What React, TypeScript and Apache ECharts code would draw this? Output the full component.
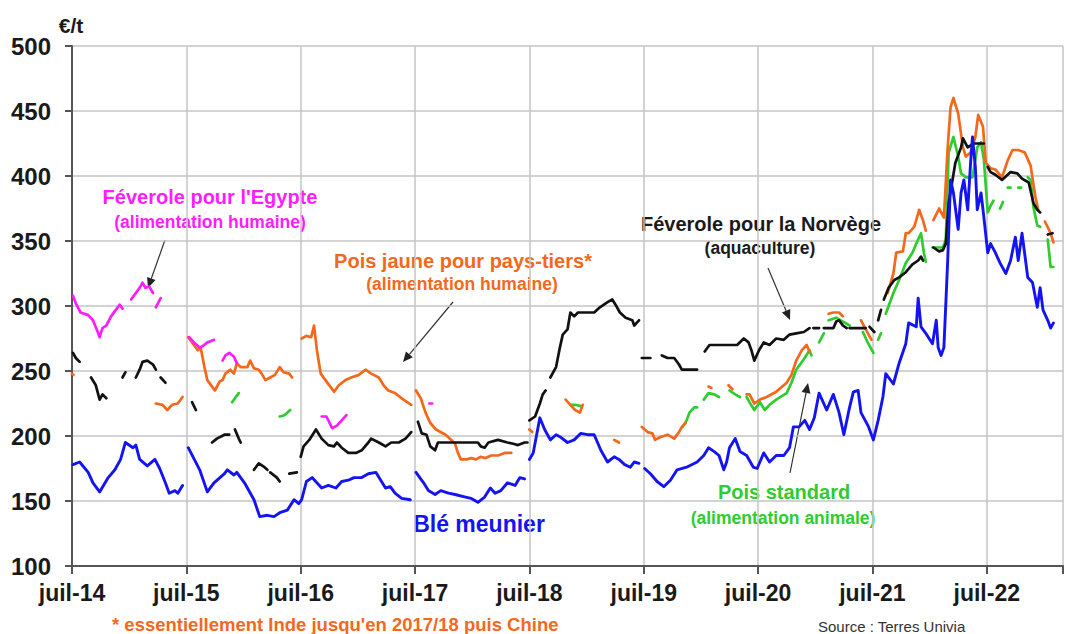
import React, { useEffect, useRef } from "react";
import * as echarts from "echarts";

type P = [number, number] | null;

// x = months since July 2014, y = €/t
const xLabels = ["juil-14", "juil-15", "juil-16", "juil-17", "juil-18", "juil-19", "juil-20", "juil-21", "juil-22"];

const bleMeunier: P[] = [
  [0.1,178],[0.8,180],[1.7,172],[2.2,164],[2.9,157],[3.8,168],[4.5,174],[5.1,182],[5.6,195],[6.4,191],[6.7,193],[7.1,182],[7.9,177],[8.7,182],[9.2,175],[9.8,164],[10.2,156],[10.8,158],[11.1,156],[11.6,162],
  null,
  [12.2,191],[13.4,174],[14.2,157],[14.9,164],[16.0,171],[16.3,174],[17.0,170],[17.3,172],[18.1,164],[19.1,151],[19.7,138],[20.5,139],[21.2,138],[21.8,141],[22.6,143],[23.3,151],[23.8,148],[24.1,151],[24.6,165],[25.2,168],[25.7,164],[26.2,160],[26.9,162],[27.7,160],[28.3,165],[29.0,166],[29.6,168],[30.4,168],[31.1,171],[31.9,172],[32.4,166],[32.9,160],[33.4,161],[33.9,156],[34.6,152],[35.5,151],
  null,
  [36.1,172],[36.9,164],[37.4,158],[38.1,155],[38.7,158],[39.5,156],[40.2,155],[41.3,153],[41.9,152],[42.6,149],[43.3,153],[43.9,160],[44.4,156],[45.0,158],[45.7,164],[46.5,162],[47.0,168],[47.5,167],
  null,
  [48.0,182],[48.4,187],[49.1,214],[49.6,205],[50.2,197],[50.8,201],[51.3,199],[52.0,195],[52.7,197],[53.4,202],[54.1,201],[54.8,201],[55.5,189],[56.2,180],[56.9,184],[57.4,182],[58.0,178],[58.6,176],[59.0,180],[59.5,179],
  null,
  [60.1,175],[60.7,171],[61.4,165],[62.1,161],[62.8,166],[63.5,174],[64.5,176],[65.6,180],[66.3,185],[66.8,191],[67.4,188],[67.9,185],[68.4,174],[68.7,180],[69.0,191],[69.6,198],[70.1,188],[70.8,185],[71.5,176],[71.9,175],[72.6,187],[73.2,180],[73.9,185],[74.7,185],[75.3,191],[75.7,207],[76.3,207],[76.9,212],[77.4,205],[77.9,214],[78.4,233],[79.2,220],[79.9,232],[80.5,218],[81.0,201],[81.6,222],[82.0,234],[82.5,235],[82.8,218],[83.6,207],[84.1,197],[84.6,212],[85.1,230],[85.4,248],[86.2,240],[86.8,256],[87.5,271],[87.8,287],[88.6,284],[88.8,306],[89.1,284],[89.6,279],[90.3,271],[90.7,289],[90.9,268],[91.2,262],[91.5,268],[91.9,335],[92.2,397],[92.5,387],[93.0,359],[93.3,387],[93.6,397],[94.0,374],[94.3,410],[94.5,430],[94.8,407],[95.0,374],[95.4,387],[95.7,368],[96.1,341],[96.4,348],[96.9,341],[97.4,333],[98.0,325],[98.5,335],[99.0,353],[99.3,335],[99.7,356],[100.3,322],[100.8,318],[101.3,299],[101.6,314],[101.9,297],[102.4,289],[102.7,283],[103.0,287],
];

const feveroleNorvege: P[] = [
  [0.1,264],[0.4,260],[0.8,257],
  null,
  [2.0,245],[2.5,239],[2.9,228],[3.2,232],[3.6,229],
  null,
  [5.3,245],[5.6,249],
  null,
  [6.7,245],[7.1,251],[7.4,257],[7.9,258],[8.5,255],[8.8,251],
  null,
  [9.3,245],[9.8,241],
  null,
  [12.6,226],[13.0,220],
  null,
  [14.7,195],[15.2,198],[16.0,201],[16.5,201],
  null,
  [17.1,205],[17.5,198],[17.7,195],
  null,
  [19.1,174],[19.6,179],[20.2,176],[20.5,174],
  null,
  [20.8,172],[21.5,168],[21.8,165],
  null,
  [22.8,171],[23.6,172],
  null,
  [24.0,184],[24.3,192],[24.9,197],[25.6,205],[26.2,198],[26.9,193],[27.5,192],[27.8,195],[28.3,191],[29.0,187],[29.8,187],[30.4,189],[31.1,195],[31.4,198],[32.2,195],[32.9,192],[33.5,195],[34.3,195],[35.0,198],[35.6,203],
  null,
  [36.3,211],[36.7,202],[37.2,201],[37.6,192],[38.1,189],[38.4,195],[39.2,195],[41.3,195],[42.6,195],[42.9,192],[43.3,191],[43.7,195],[44.7,197],[45.7,195],[46.3,194],[46.8,193],[47.5,195],[47.8,195],
  null,
  [48.0,212],[48.6,215],[49.1,225],[49.4,232],[49.7,235],
  null,
  [50.2,245],[50.8,253],[51.2,268],[51.5,278],[52.0,282],[52.3,295],[52.7,292],[53.1,295],[54.8,295],[55.4,299],[56.2,303],[56.7,305],[57.2,299],[57.5,295],[58.1,291],[58.8,289],[59.0,285],[59.5,289],
  null,
  [59.8,260],[60.7,260],
  null,
  [61.9,262],[62.5,260],[63.2,260],[63.7,255],[64.0,251],[64.8,251],[65.6,251],
  null,
  [66.4,265],[66.9,270],[69.8,270],[70.5,275],[71.0,272],[71.3,266],[71.6,258],[72.1,266],[72.6,272],[73.2,270],[73.9,275],[74.7,274],[75.3,278],[76.0,279],[76.8,280],[77.4,283],
  null,
  [77.8,283],[78.4,283],
  null,
  [78.9,283],[79.9,283],[80.2,288],[80.5,289],[80.9,285],[81.3,283],
  null,
  [81.6,283],[82.3,283],[83.3,283],
  null,
  [83.7,284],[84.2,280],
  null,
  [84.6,289],[84.9,297],
  null,
  [85.2,305],[85.7,314],[86.3,320],[86.8,322],[87.5,326],[88.2,332],[88.8,335],[89.1,338],[89.3,335],
  null,
  [90.4,345],[91.0,342],[91.4,343],[91.7,348],[92.0,379],[92.7,410],[93.3,422],[93.5,429],[94.0,422],[94.6,425],[95.7,425],
  null,
  [96.1,407],[96.4,403],[96.9,401],[97.6,397],[98.5,403],[99.2,402],[99.7,398],[100.4,395],[100.9,379],[101.3,374],[101.6,372],
  null,
  [102.4,355],[102.9,356],
];

const poisJaune: P[] = [
  [0.0,248],[0.15,247],
  null,
  [8.8,225],[9.5,224],[10.0,220],[10.5,224],[11.1,225],[11.6,230],
  null,
  [12.2,276],[12.6,272],[13.2,266],[13.5,268],[13.9,253],[14.2,243],[14.7,238],[15.0,235],[15.5,242],[15.8,243],[16.1,248],[16.6,251],[17.0,248],[17.3,256],[17.7,253],[18.4,253],[18.7,258],[19.1,252],[19.6,251],[19.9,248],[20.3,243],[20.8,245],[21.3,247],[21.8,253],[22.2,249],[22.8,248],[23.1,245],
  null,
  [24.1,275],[24.6,277],[25.1,276],[25.4,285],[25.7,266],[26.1,248],[26.6,243],[27.2,237],[27.5,234],[28.0,239],[28.7,243],[29.3,245],[30.1,247],[30.8,251],[31.4,248],[32.2,245],[32.7,239],[33.2,235],[33.9,233],[34.6,229],[35.6,224],
  null,
  [36.1,235],[36.6,229],[37.1,218],[37.6,210],[38.2,205],[39.2,201],[39.8,197],[40.2,194],[40.5,187],[40.8,182],[41.4,182],[41.9,183],[42.4,182],[42.9,184],[43.4,183],[44.0,185],[44.7,185],[45.4,187],[46.1,187],
  null,
  [48.0,205],[48.3,203],
  null,
  [51.8,228],[52.3,224],[52.8,220],[53.3,218],[53.6,224],
  null,
  [56.9,197],[57.4,195],
  null,
  [59.8,207],[60.4,203],[60.9,202],[61.2,197],[61.7,199],[62.5,201],[63.2,198],[63.7,203],[64.0,207],[64.4,210],
  null,
  [66.8,238],[67.1,237],
  null,
  [68.9,239],[69.3,236],
  null,
  [70.8,232],[71.1,232],[71.6,225],[72.2,228],[72.9,230],[73.9,234],[75.0,241],[75.5,247],[76.0,258],[76.6,266],[77.1,270],[77.4,265],
  null,
  [79.4,294],[79.9,295],[80.5,295],[80.9,292],
  null,
  [82.8,289],[83.3,282],[83.9,274],
  null,
  [85.6,310],[86.2,325],[86.5,341],[87.2,342],[87.5,356],[87.8,356],[88.4,361],[88.9,374],[89.3,366],[89.6,358],
  null,
  [90.4,366],[91.0,375],[91.5,368],[91.9,422],[92.2,453],[92.5,460],[93.0,448],[93.5,422],[93.8,415],[94.3,418],[94.8,430],[95.1,447],[95.6,438],[95.9,410],[96.4,406],[96.9,405],[97.6,399],[98.2,412],[98.7,420],[99.3,420],[100.0,418],[100.6,408],[101.1,384],[101.4,374],
  null,
  [102.1,365],[102.7,356],[103.0,349],
];

const poisStandard: P[] = [
  [16.8,226],[17.1,229],[17.5,233],
  null,
  [21.8,215],[22.3,216],[22.9,220],
  null,
  [52.3,224],[52.8,224],[53.4,223],
  null,
  [64.1,207],[64.5,212],[64.8,218],[65.3,222],[65.6,222],
  null,
  [66.3,228],[66.8,233],[67.4,232],[67.9,230],
  null,
  [69.0,235],[69.6,232],[70.1,230],
  null,
  [70.8,230],[71.1,226],[71.6,220],[72.2,226],[72.7,220],[73.2,224],[73.9,228],[75.0,233],[75.5,241],[76.0,251],[76.8,259],[77.4,266],[77.6,262],
  null,
  [78.4,272],[78.9,279],
  null,
  [79.4,289],[80.2,291],[80.9,288],[81.6,285],
  null,
  [83.0,280],[83.5,272],[84.1,264],
  null,
  [84.6,274],[84.9,279],
  null,
  [85.4,294],[86.2,310],[86.8,320],[87.5,333],[88.2,341],[88.6,348],[89.1,356],[89.4,341],[89.6,334],
  null,
  [90.3,345],[91.4,345],[91.7,351],[92.0,418],[92.5,430],[93.0,415],[93.3,402],[93.8,399],[94.5,399],[95.0,422],[95.4,426],[95.7,412],[96.1,372],[96.4,377],[96.7,381],
  null,
  [97.4,375],[97.7,380],
  null,
  [98.2,391],[98.5,391],
  null,
  [99.3,391],[99.6,391],
  null,
  [100.3,399],[100.6,397],[100.9,376],[101.3,362],[101.6,361],
  null,
  [102.4,351],[102.7,330],[103.0,330],
];

const feveroleEgypte: P[] = [
  [0.1,308],[0.4,302],[0.9,295],[1.7,293],[2.2,289],[2.7,280],[2.9,276],[3.2,283],[3.6,285],[4.1,292],[4.6,297],[5.0,301],[5.3,298],
  null,
  [6.2,305],[6.7,310],[7.1,314],[7.4,318],[7.7,314],[8.1,315],[8.5,310],
  null,
  [8.8,299],[9.3,306],
  null,
  [12.3,276],[12.8,272],[13.4,268],[13.7,269],[14.2,272],[14.9,274],
  null,
  [15.8,258],[16.1,262],[16.5,264],[17.0,261],[17.3,256],
  null,
  [26.2,215],[26.7,215],[27.3,206],[27.8,208],[28.3,212],[28.8,216],
  null,
  [37.5,225],[37.8,225],
];

const FONT = "'Liberation Sans', Arial, Helvetica, sans-serif";
const C_BLUE = "#1414f2";
const C_BLACK = "#111111";
const C_ORANGE = "#f4681c";
const C_GREEN = "#2fcc2f";
const C_MAGENTA = "#ff1cff";

function toData(points: P[]) {
  const out: any[] = [];
  points.forEach((p, i) => {
    if (p === null) {
      const prev = points[i - 1];
      out.push([prev ? prev[0] + 0.01 : 0, "-"]);
    } else {
      out.push(p);
    }
  });
  return out;
}

function lineSeries(name: string, pts: P[], color: string, width = 2.7) {
  return {
    name,
    type: "line",
    data: toData(pts),
    showSymbol: false,
    symbol: "none",
    connectNulls: false,
    lineStyle: { color, width, join: "round", cap: "round" },
    itemStyle: { color },
  };
}

function arrow(x1: number, y1: number, x2: number, y2: number) {
  const dx = x2 - x1, dy = y2 - y1;
  const len = Math.sqrt(dx * dx + dy * dy);
  const ux = dx / len, uy = dy / len;
  const hl = 10, hw = 4.5;
  const bx = x2 - ux * hl, by = y2 - uy * hl;
  return [
    { type: "line", shape: { x1, y1, x2: bx, y2: by }, style: { stroke: "#333", lineWidth: 1.2 } },
    {
      type: "polygon",
      shape: { points: [[x2, y2], [bx - uy * hw, by + ux * hw], [bx + uy * hw, by - ux * hw]] },
      style: { fill: "#222" },
    },
  ];
}

function label(text: string, x: number, y: number, color: string, size: number, weight = "bold", align = "center") {
  return {
    type: "text",
    x,
    y,
    style: { text, fill: color, font: `${weight} ${size}px ${FONT}`, textAlign: align, textVerticalAlign: "middle" },
  };
}

export default function App() {
  const ref = useRef<HTMLDivElement>(null);
  useEffect(() => {
    if (!ref.current) return;
    const chart = echarts.init(ref.current, undefined, { renderer: "svg" });
    const option: any = {
      animation: false,
      backgroundColor: "#ffffff",
      grid: { left: 72, right: 0, top: 46, bottom: 68 },
      xAxis: {
        type: "value",
        min: 0,
        max: 104,
        interval: 12,
        axisLine: { show: true, onZero: false, lineStyle: { color: "#555", width: 2 } },
        axisTick: { show: true, length: 8, lineStyle: { color: "#555", width: 2 } },
        axisLabel: {
          fontFamily: FONT,
          fontSize: 23,
          fontWeight: "bold",
          color: "#1a1a1a",
          margin: 15,
          formatter: (v: number) => {
            const i = Math.round(v / 12);
            return Math.abs(v - i * 12) < 1e-6 && i < xLabels.length ? xLabels[i] : "";
          },
        },
        splitLine: { show: true, lineStyle: { color: "#c4c4c4", width: 1.5 } },
      },
      yAxis: {
        type: "value",
        min: 100,
        max: 500,
        interval: 50,
        axisLine: { show: true, lineStyle: { color: "#555", width: 2 } },
        axisTick: { show: true, length: 7, lineStyle: { color: "#555", width: 2 } },
        axisLabel: { fontFamily: FONT, fontSize: 24, fontWeight: "bold", color: "#1a1a1a", margin: 21 },
        splitLine: { show: true, lineStyle: { color: "#c4c4c4", width: 1.5 } },
      },
      series: [
        lineSeries("Pois standard", poisStandard, C_GREEN),
        lineSeries("Pois jaune pour pays-tiers", poisJaune, C_ORANGE),
        lineSeries("Féverole pour la Norvège", feveroleNorvege, C_BLACK),
        lineSeries("Blé meunier", bleMeunier, C_BLUE, 2.9),
        lineSeries("Féverole pour l'Egypte", feveroleEgypte, C_MAGENTA),
      ],
      graphic: [
        label("€/t", 71, 25, "#1a1a1a", 21),
        label("Féverole pour l'Egypte", 210, 197, C_MAGENTA, 20),
        label("(alimentation humaine)", 210, 222, C_MAGENTA, 17.5),
        ...arrow(165, 240, 148, 288),
        label("Pois jaune pour pays-tiers*", 463, 261, C_ORANGE, 20),
        label("(alimentation humaine)", 462, 284, C_ORANGE, 17.5),
        ...arrow(453, 302, 403, 362),
        label("Féverole pour la Norvège", 761, 224, "#1a1a1a", 20),
        label("(aquaculture)", 760, 248, "#1a1a1a", 17.5),
        ...arrow(768, 268, 790, 320),
        label("Pois standard", 784, 492, C_GREEN, 20),
        label("(alimentation animale)", 783, 518, C_GREEN, 17.5),
        ...arrow(790, 473, 808, 383),
        label("Blé meunier", 479, 524, C_BLUE, 23),
        label("* essentiellement Inde jusqu'en 2017/18 puis Chine", 112, 624, C_ORANGE, 18.5, "bold", "left"),
        label("Source : Terres Univia", 818, 626, "#333333", 15, "normal", "left"),
      ],
    };
    chart.setOption(option);
    return () => chart.dispose();
  }, []);
  return <div ref={ref} style={{ position: "absolute", left: 0, top: 0, width: 1066, height: 634 }} />;
}
